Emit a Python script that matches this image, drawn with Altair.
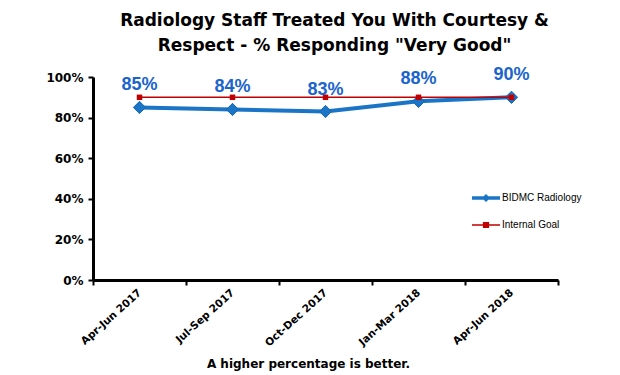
import altair as alt
import pandas as pd

periods = ["Apr-Jun 2017", "Jul-Sep 2017", "Oct-Dec 2017", "Jan-Mar 2018", "Apr-Jun 2018"]
radiology = [0.85, 0.84, 0.83, 0.88, 0.90]
goal = [0.90, 0.90, 0.90, 0.90, 0.90]
series_names = ["BIDMC Radiology", "Internal Goal"]
series_colors = ["#1B75C6", "#C00000"]
y_ticks = [0, 0.2, 0.4, 0.6, 0.8, 1.0]

rows = []
for p, v in zip(periods, radiology):
    rows.append({"period": p, "series": series_names[0], "value": v})
for p, v in zip(periods, goal):
    rows.append({"period": p, "series": series_names[1], "value": v})
df = pd.DataFrame(rows)

FONT = "Liberation Sans"
WFONT = "DejaVu Sans"

x_enc = alt.X("period:N", sort=periods, scale=alt.Scale(domain=periods, paddingInner=0, paddingOuter=0),
              axis=alt.Axis(title="A higher percentage is better.", labelAngle=-42, labelAlign="right",
                            labelBaseline="middle", labelFontWeight="bold", labelFontSize=10.5,
                            labelFont=WFONT, titleFont=WFONT, labelColor="black", titleColor="black",
                            labelPadding=6, tickBand="extent", titleFontWeight="bold", titleFontSize=12,
                            titleX=215, titleY=83, titleBaseline="middle", titleAnchor="middle",
                            domainColor="black", domainWidth=3, tickColor="black", tickWidth=2, tickSize=5))
y_enc = alt.Y("value:Q", scale=alt.Scale(domain=[0, 1], nice=False, zero=True),
              axis=alt.Axis(title=None, values=y_ticks, format=".0%", labelFontWeight="bold",
                            labelFont=WFONT, labelFontSize=12, labelPadding=5, grid=False, labelColor="black",
                            domain=True, domainColor="black", domainWidth=3, domainOpacity=1,
                            tickColor="black", tickWidth=2, tickSize=5, tickOpacity=1))
color_scale = alt.Scale(domain=series_names, range=series_colors)

base = alt.Chart(df)
blue = base.transform_filter(alt.datum.series == series_names[0])
red = base.transform_filter(alt.datum.series == series_names[1])

blue_line = blue.mark_line(strokeWidth=4, color=series_colors[0]).encode(x=x_enc, y=y_enc)
blue_pts = blue.mark_point(shape="diamond", filled=True, size=150, color=series_colors[0], opacity=1,
                           stroke="#1565B0", strokeWidth=1).encode(x=x_enc, y=y_enc)
red_line = red.mark_line(strokeWidth=1.5, color=series_colors[1]).encode(x=x_enc, y=y_enc)
red_pts = red.mark_point(shape="square", filled=True, size=30, color=series_colors[1], opacity=1).encode(x=x_enc, y=y_enc)
labels = blue.mark_text(dy=-22, fontSize=18, font=FONT, fontWeight="bold", color="#1A64CC").encode(
    x=x_enc, y=y_enc, text=alt.Text("value:Q", format=".0%"))

blue_path = "M-1.17,-0.15H1.17V0.15H-1.17Z M0,-0.34L0.34,0L0,0.34L-0.34,0Z"
red_path = "M-1.17,-0.07H1.17V0.07H-1.17Z M-0.26,-0.26H0.26V0.26H-0.26Z"

leg = alt.Legend(title=None, orient="none", legendX=381, legendY=109,
                 symbolSize=576, labelFontSize=10, labelFont=FONT, labelColor="black",
                 labelOffset=4, rowPadding=10, padding=0, symbolStrokeWidth=0)

legend_layer = base.mark_point(filled=True, size=1, opacity=1).encode(
    x=x_enc, y=y_enc,
    color=alt.Color("series:N", scale=color_scale, legend=leg),
    shape=alt.Shape("series:N", scale=alt.Scale(domain=series_names, range=[blue_path, red_path]), legend=leg),
)

chart = alt.layer(legend_layer, blue_line, blue_pts, red_line, red_pts, labels).properties(
    width=465, height=203,
    background="white",
    autosize=alt.AutoSizeParams(type="none"),
    padding={"left": 93, "top": 77, "right": 62, "bottom": 95},
    title=alt.Title(["Radiology Staff Treated You With Courtesy &", 'Respect - % Responding "Very Good"'],
                    fontSize=17, font=WFONT, fontWeight="bold", color="black", anchor="middle",
                    lineHeight=25, dx=9, dy=3, offset=14),
).configure_view(stroke=None, strokeWidth=0)

chart.save("out.html", embed_options={"renderer": "svg", "actions": False})
